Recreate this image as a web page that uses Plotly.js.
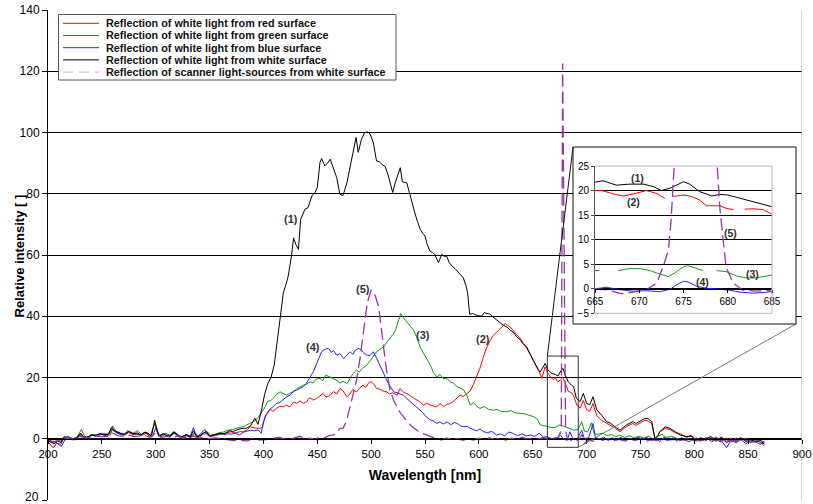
<!DOCTYPE html>
<html><head><meta charset="utf-8">
<script src="https://cdn.plot.ly/plotly-3.0.1.min.js"></script>
<style>html,body{margin:0;padding:0;background:#fff}</style>
</head><body><div id="chart" style="width:813px;height:504px"></div>
<script>
// ---------------- DATA ----------------
const seriesNames = [
  'Reflection of white light from red surface',
  'Reflection of white light from green surface',
  'Reflection of white light from blue surface',
  'Reflection of white light from white surface',
  'Reflection of scanner light-sources from white surface'
];
const seriesColors = ['#ff0000', '#119911', '#2222ff', '#000000', '#9933a6'];

// [wavelength nm, relative intensity]
const redSurface = [[200,-1.0],[203,-2.0],[205,-3.0],[208,-1.5],[212,-1.8],[215,0.4],[219,0.0],[223,-0.4],[227,0.2],[231,1.6],[234,0.3],[238,0.8],[242,1.3],[246,1.0],[250,1.5],[254,1.0],[258,1.3],[260,3.2],[263,2.0],[267,1.5],[271,1.2],[275,2.0],[279,1.3],[283,1.6],[287,1.0],[291,1.8],[295,0.6],[299,4.8],[302,1.5],[305,0.6],[309,1.5],[313,0.6],[317,1.8],[321,0.9],[325,0.3],[329,1.0],[333,0.4],[336,1.8],[340,0.4],[344,1.5],[348,1.8],[351,0.7],[355,1.0],[359,1.3],[363,1.6],[367,2.0],[370,2.3],[374,1.8],[378,1.2],[382,2.4],[385,3.0],[388,3.9],[392,3.5],[396.5,3.4],[399,3.7],[401.5,7.2],[404,8.3],[406,9.6],[409,9.0],[412,9.9],[415,10.6],[418.5,10.4],[421,11.0],[424.5,10.4],[428,12.0],[431,11.5],[434,12.4],[437,11.6],[440,12.1],[443,13.4],[446,12.6],[449.5,13.2],[452,14.0],[455.5,14.8],[458,13.6],[462,14.2],[465,15.4],[468,14.6],[471,16.4],[474,15.6],[477.5,13.7],[480,14.5],[483,16.0],[486.5,15.3],[489,16.4],[492.5,17.5],[495,16.8],[498,18.4],[500.5,18.6],[503,17.6],[505,16.4],[508,16.2],[511,15.6],[514.5,15.3],[517,14.6],[520,15.0],[524,14.2],[527,16.4],[530,15.2],[533,14.8],[536,14.2],[539,13.4],[542.5,12.6],[545.5,12.0],[548.5,11.0],[551.5,11.6],[555,11.0],[558,10.6],[561,10.4],[564,11.5],[567,10.5],[570,11.2],[573.5,11.5],[577,12.4],[580,13.5],[582.5,14.2],[585.5,13.8],[589,14.8],[592,15.6],[595,17.8],[598,20.2],[601,23.0],[604,26.5],[607.5,30.0],[610.5,32.0],[613.5,33.8],[616.5,34.8],[620,36.0],[622,36.8],[624.5,37.6],[627,37.0],[629.5,36.3],[632,35.4],[635,34.0],[638,33.0],[641.5,31.1],[644.5,29.5],[647.5,27.8],[650.5,25.6],[654,23.5],[656.5,21.5],[658.5,19.7],[661.5,23.5],[664,21.5],[666.5,20.2],[669,19.3],[671,20.0],[673,18.6],[675.5,19.1],[678,20.0],[680.5,18.0],[683,15.5],[686,15.0],[688,14.0],[691,11.0],[694,10.0],[697,12.5],[700,9.5],[703,9.0],[706,11.5],[709.5,7.5],[714,6.0],[719,5.0],[722,4.5],[726.5,3.5],[731,2.3],[737,4.0],[743,5.0],[746,4.4],[751,5.4],[754,6.0],[757,5.8],[760.5,5.0],[763.5,-0.2],[766,0.8],[768,2.3],[773,3.4],[777.5,3.0],[782,2.0],[787,1.6],[793,0.4],[797,1.2],[802,-0.5],[806,0.4],[811,-0.6],[815,0.5],[820,-0.9],[825,0.6],[830,-0.8],[834,0.2],[839,-1.0],[843,0.1],[848,-0.4],[852,-1.2],[857,-0.6],[861,-1.0],[865,-2.4]];

const greenSurface = [[200,-0.5],[203,-1.0],[206,-1.2],[209,-0.4],[212,-0.8],[215,0.8],[219,0.4],[223,0.0],[227,0.6],[231,3.0],[234,0.8],[238,0.6],[242,1.4],[246,1.2],[250,1.8],[254,1.5],[258,1.8],[260,4.2],[263,2.5],[267,1.9],[271,1.6],[275,2.5],[279,1.8],[283,2.6],[287,1.4],[291,2.2],[295,1.0],[299,5.0],[302,2.0],[305,1.0],[309,1.8],[313,1.2],[317,2.4],[321,1.2],[325,0.6],[329,1.3],[333,0.8],[336,2.0],[340,0.8],[344,1.9],[348,2.2],[351,1.2],[355,1.5],[359,2.0],[363,2.2],[367,2.8],[371,3.0],[375,3.4],[379,3.9],[383,4.2],[387,5.0],[390.5,5.5],[394,6.5],[398,8.3],[401,10.0],[404,12.2],[407,12.5],[409,13.2],[412,14.5],[415.5,15.3],[418,14.8],[421.5,14.2],[424,14.8],[428,15.3],[431,16.4],[434,17.0],[437,17.5],[440,17.8],[443.5,18.6],[446,18.2],[449,19.5],[452.5,19.7],[455,19.0],[458,20.8],[462,20.2],[465,19.8],[468,19.1],[471,18.2],[474,18.8],[477.5,18.0],[480,19.5],[483,21.2],[486.5,22.4],[489,21.8],[492,23.0],[496,24.0],[499,25.4],[502,27.0],[505,28.4],[508,29.2],[511.5,30.0],[514,31.2],[517.5,32.7],[520,34.0],[522.5,35.4],[525,38.0],[527.5,40.9],[530,39.5],[533,38.2],[536,37.0],[539.5,35.4],[542.5,33.0],[545.5,30.0],[548.5,28.0],[551.5,26.2],[555,24.0],[558,21.5],[561,20.2],[564,21.0],[567,19.6],[570.5,19.7],[573.5,18.5],[576.5,18.2],[579.5,17.0],[582.5,16.6],[586,15.9],[589,14.0],[592,11.0],[595,11.8],[598,10.6],[601,9.9],[605,10.5],[609,9.6],[613.5,9.3],[617,9.6],[621,8.9],[626,8.8],[630,9.2],[634,8.4],[638.5,8.3],[642,8.2],[646,7.7],[651,7.2],[654,6.5],[657,4.5],[661,4.2],[664,3.9],[667,3.7],[671,3.7],[675,4.5],[678,4.2],[683,3.4],[688,2.8],[692,3.0],[695.5,5.6],[698,2.5],[701,2.2],[704.5,5.2],[707,1.6],[711,1.5],[715,1.8],[719,1.0],[723,1.4],[727,0.6],[731,1.2],[735,0.4],[740,1.0],[744,0.3],[749,0.8],[753,0.2],[758,0.9],[762,-0.2],[766,0.6],[770,1.5],[774,0.4],[779,0.8],[784,0.1],[789,-0.5],[793,0.2],[797,-0.6],[802,0.3],[806,-0.8],[811,0.4],[815,-0.5],[820,0.6],[825,-0.7],[830,0.2],[834,-1.1],[839,0.3],[843,-0.5],[848,0.2],[852,-1.3],[857,-0.4],[861,-1.2],[865,-1.5]];

const blueSurface = [[200,-0.6],[203,-1.1],[206,-0.9],[209,-1.6],[212.5,-2.5],[215,-0.8],[218,0.8],[222,0.2],[226,-0.4],[230,1.2],[233,0.4],[236,0.2],[240,1.4],[244,0.8],[248,1.6],[252,1.3],[256,1.6],[259,3.0],[262,2.4],[266,1.6],[270,1.2],[274,2.6],[278,1.8],[282,1.6],[286,1.2],[290,2.2],[294,1.4],[297,0.8],[300,3.6],[303,0.8],[307,1.6],[310,1.1],[314,0.9],[318,2.0],[321,1.0],[325,0.6],[328,1.4],[332,0.8],[335,3.6],[338,0.6],[341,1.4],[345.5,3.0],[348,1.2],[351,0.8],[355,1.4],[359,1.6],[363,1.4],[367,1.6],[370,1.5],[374,2.0],[378,2.3],[382,2.2],[385,2.6],[388,2.8],[392,2.6],[395,2.9],[398,1.8],[400,5.6],[403,8.3],[406,9.6],[409,10.5],[412,11.5],[415,11.8],[418,12.6],[421.5,13.7],[425,14.3],[428,15.6],[431,15.9],[434,16.5],[437,17.0],[440,18.2],[443.5,20.2],[446.5,22.0],[449.5,24.6],[452,26.5],[454,28.4],[457,29.2],[460.5,29.5],[463,28.2],[465,28.8],[468,27.3],[471,27.8],[474.5,26.2],[477,27.2],[480.5,28.4],[483,27.6],[485.5,29.0],[488.5,29.5],[491,29.0],[493,28.1],[496,27.3],[499,27.2],[502,28.4],[505,26.4],[508.5,23.5],[511,21.4],[514.5,19.1],[517.5,17.2],[521,15.3],[524,15.0],[527,14.6],[530,14.2],[533,13.2],[536.5,12.1],[539,11.4],[542,10.6],[545.5,9.3],[548,8.5],[551,7.2],[555,6.1],[558,5.8],[561,5.0],[564,5.5],[567,4.8],[570.5,5.5],[574,4.6],[577,5.3],[580,5.0],[583,4.2],[586,3.9],[589,4.1],[592,3.4],[595,3.0],[598,2.6],[601,3.2],[604.5,2.3],[608,2.0],[612,2.4],[616.5,1.2],[620,1.6],[624,1.0],[628,2.2],[632,1.7],[636,1.0],[640,1.6],[644,0.9],[648,1.2],[652,0.8],[656,1.8],[660,0.5],[663,0.7],[666,0.2],[670,-0.3],[673,-0.2],[675,1.5],[678,0.2],[682,-0.6],[684.5,2.3],[687,0.2],[691,-0.3],[695.5,2.8],[698,0.0],[702,0.4],[706,5.0],[708,0.6],[712,-0.2],[716,0.6],[720,-0.6],[724,0.3],[728,-0.4],[732,0.5],[736,-0.8],[740,0.1],[744,-0.5],[748,0.6],[752,-0.3],[756,0.4],[760,-0.6],[764,0.2],[768,-0.9],[772,0.5],[776,-0.3],[780,0.3],[784,-0.8],[788,0.4],[792,-0.4],[796,0.2],[800,-0.9],[804,0.1],[808,-0.6],[812,0.3],[816,-1.0],[820,-0.2],[825,-0.6],[830,-2.9],[834,-0.5],[839,-1.3],[843,-0.2],[848,-1.6],[852,-0.4],[857,-1.0],[861,-1.8],[865,-1.2]];

const whiteSurface = [[200,-0.5],[203,-1.2],[206,-1.6],[209,-0.8],[212,-1.2],[215,0.6],[218,0.2],[222,-0.2],[226,0.0],[230,1.8],[233,0.6],[236,0.4],[240,1.2],[244,1.0],[248,1.7],[252,1.2],[256,1.4],[259,3.8],[262,2.6],[265,2.0],[268,1.6],[271,1.4],[275,2.3],[279,1.6],[283,1.9],[286,1.3],[290,2.1],[293,1.8],[296,0.8],[299,6.0],[301,3.0],[303,0.8],[307,1.7],[310,1.0],[313,0.8],[317,2.2],[320,1.2],[323,0.4],[326,1.0],[329,1.2],[332,0.5],[335,2.6],[338,0.6],[341,1.0],[344,1.8],[347,2.4],[350,0.8],[353,1.2],[357,1.5],[360,1.8],[364,1.6],[368,2.6],[372,2.4],[376,3.0],[380,3.4],[384,3.4],[388,4.2],[392,6.7],[395,4.7],[398,9.0],[401,14.3],[404,18],[407,20],[410,24],[413,32],[415.5,40],[418.5,47.7],[421,50.5],[423,53.1],[426,59.6],[428,65.6],[430,63.5],[432.5,61.8],[434.5,71.6],[436.5,73],[438.5,74.9],[441.5,75.5],[443,77],[445,79.3],[448,80.5],[450,82],[452.5,90.2],[454,91.5],[457,89.1],[459.5,90],[462,91.3],[464.5,89],[466.5,86.9],[468,85.3],[471,79.8],[474,79.5],[477.5,83.6],[480,88],[482,92.4],[484,96],[486,98.4],[488,93.5],[491,97.8],[494,100],[497,100.2],[499,99.5],[502,96.7],[505,90.7],[507.5,90.5],[510,89.6],[513,88.9],[516,85.8],[520,80.4],[522,83.1],[524.5,86],[527,88.5],[529,83.9],[533,83.6],[536,79.8],[538,77],[540.5,73.8],[543,71],[545.5,68.4],[548,67],[550,66.2],[552,63.5],[554.5,61.3],[557,60.8],[559,60.2],[562.5,57.5],[565.5,60.2],[568,59.5],[570,59.7],[572.5,57.5],[575,56.4],[578,55.5],[581,54.2],[583,53.5],[585.5,52.6],[588,50],[589.5,47.7],[591.5,40.6],[594,40.9],[596,40.6],[599,40.2],[602.5,40],[605,41.2],[607.5,40.9],[610,40.8],[613,39.8],[616.5,38.7],[620,37.8],[623,37],[626,36.5],[629,35.5],[632,34.8],[635,33.3],[638,32.5],[641,31],[644.5,30],[647,28],[650.5,25.7],[653,24],[655,22.5],[657,21.8],[659,23],[661.5,24.6],[664,22.5],[666,21.8],[668,21.3],[671,21],[673.5,20.5],[675.5,21.8],[678,23],[680.5,20.5],[683,18.6],[686,17.5],[688,17],[690.5,13.2],[694,12.1],[697,14.8],[700,11.6],[703,11.1],[706,13.7],[709.5,9.4],[714,7.7],[718.5,5.6],[722,5.1],[726.5,3.9],[731,2.8],[737,4.5],[743,5.6],[746,5],[751,6.1],[754,6.6],[757,6.6],[760.5,5.6],[763.5,0.1],[766,1],[768,2.3],[773,3.9],[777.5,3.4],[782,2.3],[787,1.2],[793,0.7],[797,0.9],[802,-0.7],[806,0.2],[811,-0.2],[815,0.8],[820,-0.5],[825,0.3],[830,-1.3],[834,-0.2],[839,-0.7],[843,0.4],[848,-0.9],[852,-0.2],[857,-1.1],[861,-0.4],[865,-1.8]];

const scannerSources = [[200,-0.3],[205,-1.0],[210,-0.6],[215,0.4],[220,0.0],[225,-0.3],[230,0.8],[235,0.3],[240,0.6],[245,0.9],[250,0.7],[255,0.8],[260,1.8],[265,1.0],[270,0.8],[275,1.2],[280,0.7],[285,0.8],[290,1.1],[295,0.4],[300,2.0],[305,0.4],[310,0.8],[315,0.5],[320,0.9],[325,0.2],[330,0.6],[335,0.9],[340,0.2],[345,0.4],[350,0.0],[355,0.3],[360,0.1],[366,-0.3],[372,-0.6],[378,-0.5],[385,-0.7],[390,0.0],[396,-0.4],[403,-0.3],[409,0.2],[415,0.4],[420,-0.2],[425,-0.1],[430,0.4],[434,0.8],[438,0.1],[443,0.2],[448,-0.2],[452,0.5],[456,0.2],[461,1.0],[465,1.3],[468,2.0],[471,3.4],[474,3.5],[477,5.7],[480,10],[483,13.5],[486.5,19.1],[490,27],[493,35.4],[495.5,42],[497.5,45.8],[500,48.5],[502,48],[504,46.5],[507,43],[509,37],[511.5,30],[514,23],[517.5,15.9],[521,12.5],[524,10.4],[527,8.5],[530,7.2],[534,5.5],[538,3.9],[543,2.6],[548.5,1.7],[555,0.7],[560,0.2],[565,-0.4],[570,0.3],[575,-0.2],[580,0.1],[585,-0.5],[590,0.0],[595,-0.4],[600,0.2],[605,-0.3],[610,0.3],[615,-0.2],[620,0.1],[625,-0.4],[630,0.2],[635,-0.3],[640,0.5],[645,-0.2],[650,0.3],[655,-0.1],[660,0.4],[665,0.0],[670,0.2],[674,0.5],[676.5,3],[677.8,122.5],[680.5,3],[682,0.2],[686,-0.5],[690,-0.8],[693,-0.2],[696,1.5],[698,-1.5],[702,-0.4],[706,-0.8],[710,0.2],[715,-0.5],[720,0.1],[725,-0.6],[730,-0.2],[735,-0.7],[740,0.0],[745,-0.5],[750,-0.1],[755,-0.8],[760,-0.3],[765,-0.6],[770,0.1],[775,-0.5],[780,-0.2],[785,-0.7],[790,-0.3],[795,-0.9],[800,-0.4],[805,-0.7],[810,-0.2],[815,-0.9],[820,-0.4],[825,-1.0],[830,-0.5],[835,-0.9],[840,-0.3],[845,-0.8],[850,-0.5],[855,-1.1],[860,-0.6],[865,-1.0]];

// zoomed inset, 665-685 nm
const insetRed = [[665,20],[665.8,20],[667.1,19.3],[668.2,18.9],[669.3,19.3],[670.8,20],[672,19.4],[672.9,18.4],[673.3,null],[673.8,18.8],[675,19.1],[675.9,18.8],[676.8,18.1],[677.6,16.9],[679.1,16.9],[679.8,16.4],[680.6,16.1],[681.2,null],[681.9,16.2],[682.9,16.3],[684,16.1],[685,15.2]];
const insetGreen = [[665,3.7],[665.5,3.7],[666.5,null],[667.6,3.7],[668.9,4.1],[670.1,4.1],[671.2,3.7],[672.3,3.0],[673.3,2.5],[674,3.2],[675,4.5],[675.5,4.7],[676.5,4.2],[677.2,3.7],[678,null],[678.7,3.7],[679.8,3.5],[681,2.6],[682.1,2.2],[683.2,2.2],[685,2.8]];
const insetBlue = [[665,0],[666.3,0.3],[667.8,-0.2],[669.3,-0.5],[670.8,-0.4],[672.3,-0.6],[673.5,-0.1],[674.2,0.8],[675,1.5],[675.5,1.4],[676.5,0.5],[677.6,0.1],[679.1,-0.1],[680.2,-0.3],[681.4,-0.7],[682.9,-0.9],[684.4,-0.7],[685,-0.5]];
const insetWhite = [[665,21.7],[665.9,22],[667.4,21.1],[668.9,21.3],[670.5,21.3],[671.6,20.8],[672.5,20],[673.5,20.5],[674.2,21.1],[675,21.8],[675.7,21.3],[676.8,19.8],[678.2,18.9],[679.1,19.2],[680,19.1],[681.4,18.4],[682.9,17.8],[684,17.2],[685,16.7]];
const insetScanner = [[665,0],[666.3,-0.2],[668,-1],[669.3,-0.7],[670.8,-0.2],[672,1.2],[672.7,4.5],[673.3,7.9],[673.6,14],[674.3,40],[675.5,122],[677,122],[678.3,40],[679.1,16.7],[679.4,11.3],[679.8,4.5],[680.6,1.2],[681.7,-0.3],[683.2,-0.5],[684.7,-0.3],[685,-0.9]];

const xTicks = [200,250,300,350,400,450,500,550,600,650,700,750,800,850,900];
const yTicks = [-20,0,20,40,60,80,100,120,140];
const yTickText = ['','0','20','40','60','80','100','120','140'];
const bottomTickText = '20';   // the lowest tick label, as printed in the reference
const insetXTicks = [665,670,675,680,685];
const insetYTicks = [-5,0,5,10,15,20,25];

// curve labels: [text, wavelength, intensity]
const mainLabels = [['(1)',426,71.7],['(5)',492.5,49],['(4)',446,30.1],['(3)',548,33.9],['(2)',604,32.5]];
const insetLabels = [['(1)',669.8,22.6],['(2)',669.3,17.7],['(5)',680.3,11.3],['(3)',682.8,3.1],['(4)',677.1,1.4]];

// ---------------- LAYOUT HELPERS ----------------
const FONT = 'Arial, "Liberation Sans", sans-serif';
const W = 813, H = 504;
const M = {l: 48, r: 11, t: 10, b: 4};
const PW = W - M.l - M.r, PH = H - M.t - M.b;
const pX = px => (px - M.l) / PW;
const pY = py => (H - M.b - py) / PH;
const xr = [200, 900], yr = [-20, 140];
const dX = v => (v - xr[0]) / (xr[1] - xr[0]);
const dY = v => (v - yr[0]) / (yr[1] - yr[0]);

const outerBox = {x0: pX(573), x1: pX(796), y0: pY(324), y1: pY(147)};
const innerBox = {x0: pX(595), x1: pX(772), y0: pY(313.3), y1: pY(166)};
const insetYR = [-5, 25];
const insetZero = innerBox.y0 + (0 - insetYR[0]) / (insetYR[1] - insetYR[0]) * (innerBox.y1 - innerBox.y0);
const zoomRect = {x0: 663.6, x1: 692.3, y0: -2.8, y1: 27};

const mainSeries = [redSurface, greenSurface, blueSurface, whiteSurface, scannerSources];
const insetSeries = [insetRed, insetGreen, insetBlue, insetWhite, insetScanner];

const traces = [];
mainSeries.forEach((s, i) => {
  traces.push({
    type: 'scatter', mode: 'lines', name: seriesNames[i],
    x: s.map(p => p[0]), y: s.map(p => p[1]),
    xaxis: 'x', yaxis: 'y', showlegend: false, hoverinfo: 'skip',
    line: {color: seriesColors[i], width: i === 4 ? 1.3 : 1, dash: i === 4 ? '12px,5px' : 'solid'}
  });
});
// white background panel for the inset
traces.push({type: 'scatter', mode: 'lines', x: [null], y: [null], xaxis: 'x2', yaxis: 'y2', showlegend: false, hoverinfo: 'skip'});
insetSeries.forEach((s, i) => {
  traces.push({
    type: 'scatter', mode: 'lines', name: seriesNames[i] + ' (inset)',
    x: s.map(p => p[0]), y: s.map(p => p[1]),
    xaxis: 'x3', yaxis: 'y3', showlegend: false, hoverinfo: 'skip', connectgaps: false,
    line: {color: seriesColors[i], width: i === 4 ? 1.3 : 1, dash: i === 4 ? '12px,5px' : 'solid'}
  });
});

const shapes = [
  // hide gridlines at the very top / bottom
  {type: 'line', xref: 'paper', yref: 'y', x0: 0.002, x1: 1, y0: 140, y1: 140, line: {color: '#fff', width: 2}, layer: 'above'},
  {type: 'line', xref: 'paper', yref: 'y', x0: 0.002, x1: 1, y0: -20, y1: -20, line: {color: '#fff', width: 2}, layer: 'above'},
  // right border of plot area
  {type: 'line', xref: 'x', yref: 'y', x0: 900, x1: 900, y0: -20, y1: 140, line: {color: '#b0b0b0', width: 1}, layer: 'above'},
  // zoom rectangle
  {type: 'rect', xref: 'x', yref: 'y', x0: zoomRect.x0, x1: zoomRect.x1, y0: zoomRect.y0, y1: zoomRect.y1, line: {color: '#333', width: 1}, layer: 'above'},
  // connector lines
  {type: 'line', xref: 'paper', yref: 'paper', x0: outerBox.x0, y0: outerBox.y1, x1: dX(zoomRect.x0), y1: dY(zoomRect.y1), line: {color: '#111', width: 1}, layer: 'above'},
  {type: 'line', xref: 'paper', yref: 'paper', x0: outerBox.x1, y0: outerBox.y0, x1: dX(zoomRect.x1), y1: dY(zoomRect.y0), line: {color: '#777', width: 1}, layer: 'above'},
  // inset outer frame
  {type: 'rect', xref: 'paper', yref: 'paper', x0: outerBox.x0, x1: outerBox.x1, y0: outerBox.y0, y1: outerBox.y1, line: {color: '#111', width: 1}, layer: 'above'},
  // inset inner plot border (top, right, bottom)
  {type: 'line', xref: 'paper', yref: 'paper', x0: innerBox.x0, x1: innerBox.x1, y0: innerBox.y1, y1: innerBox.y1, line: {color: '#b8b8b8', width: 1}, layer: 'above'},
  {type: 'line', xref: 'paper', yref: 'paper', x0: innerBox.x1, x1: innerBox.x1, y0: innerBox.y0, y1: innerBox.y1, line: {color: '#b8b8b8', width: 1}, layer: 'above'},
  {type: 'line', xref: 'paper', yref: 'paper', x0: innerBox.x0, x1: innerBox.x1, y0: innerBox.y0, y1: innerBox.y0, line: {color: '#b8b8b8', width: 1}, layer: 'above'},
  // legend box
  {type: 'rect', xref: 'paper', yref: 'paper', x0: pX(58.5), x1: pX(396), y0: pY(80), y1: pY(14.5), fillcolor: '#fff', line: {color: '#555', width: 1}, layer: 'above'}
];

const annotations = [];
seriesNames.forEach((name, i) => {
  const rowY = pY(23.3 + i * 12.2);
  shapes.push({type: 'line', xref: 'paper', yref: 'paper', x0: pX(63), x1: pX(99), y0: rowY, y1: rowY,
    line: {color: seriesColors[i], width: 1, dash: i === 4 ? '10px,6px' : 'solid'}, opacity: i === 4 ? 0.45 : 1, layer: 'above'});
  annotations.push({xref: 'paper', yref: 'paper', x: pX(104), y: rowY, xanchor: 'left', yanchor: 'middle', showarrow: false,
    text: name, font: {family: FONT, size: 10.8, color: '#111', weight: 'bold'}});
});
mainLabels.forEach(l => annotations.push({xref: 'x', yref: 'y', x: l[1], y: l[2], text: l[0], showarrow: false,
  font: {family: FONT, size: 11, color: '#333', weight: 'bold'}}));
insetLabels.forEach(l => annotations.push({xref: 'x3', yref: 'y3', x: l[1], y: l[2], text: l[0], showarrow: false,
  font: {family: FONT, size: 10.5, color: '#333', weight: 'bold'}}));
// y-axis title, placed like the reference (close to the tick labels)
annotations.push({xref: 'paper', yref: 'paper', x: pX(18.5), y: pY(256), xanchor: 'center', yanchor: 'middle',
  textangle: -90, showarrow: false, text: 'Relative intensity [ ]',
  font: {family: FONT, size: 13, color: '#000', weight: 'bold'}});
// lowest y tick label, lifted slightly so it stays inside the picture
annotations.push({xref: 'paper', yref: 'paper', x: pX(41), y: pY(496.5), xanchor: 'right', yanchor: 'middle',
  showarrow: false, text: bottomTickText, font: {family: FONT, size: 12, color: '#000'}});

const layout = {
  width: W, height: H,
  margin: M,
  paper_bgcolor: '#fff', plot_bgcolor: '#fff',
  showlegend: false,
  font: {family: FONT, color: '#000'},
  xaxis: {
    range: xr, domain: [0, 1], anchor: 'free', position: dY(0),
    tickmode: 'array', tickvals: xTicks, ticks: 'outside', ticklen: 4, tickcolor: '#000',
    showline: true, linecolor: '#000', linewidth: 1, showgrid: false, zeroline: false,
    tickfont: {family: FONT, size: 11.5, color: '#000'},
    title: {text: 'Wavelength [nm]', standoff: 11, font: {family: FONT, size: 14, color: '#000', weight: 'bold'}},
    fixedrange: true
  },
  yaxis: {
    range: yr, domain: [0, 1], anchor: 'x',
    tickmode: 'array', tickvals: yTicks, ticktext: yTickText, ticks: 'outside', ticklen: 5, tickcolor: '#000',
    showline: true, linecolor: '#000', linewidth: 1,
    showgrid: true, gridcolor: '#000', gridwidth: 1, zeroline: false,
    tickfont: {family: FONT, size: 12, color: '#000'},
    fixedrange: true
  },
  xaxis2: {domain: [outerBox.x0, outerBox.x1], range: [0, 1], anchor: 'y2', visible: false, fixedrange: true},
  yaxis2: {domain: [outerBox.y0, outerBox.y1], range: [0, 1], anchor: 'x2', visible: false, fixedrange: true},
  xaxis3: {
    domain: [innerBox.x0, innerBox.x1], range: [665, 685], anchor: 'free', position: insetZero,
    tickmode: 'array', tickvals: insetXTicks, ticks: 'outside', ticklen: 3, tickcolor: '#000',
    showline: true, linecolor: '#000', linewidth: 1, showgrid: false, zeroline: false,
    tickfont: {family: FONT, size: 10, color: '#000'}, fixedrange: true
  },
  yaxis3: {
    domain: [innerBox.y0, innerBox.y1], range: insetYR, anchor: 'x3',
    tickmode: 'array', tickvals: insetYTicks, ticks: 'outside', ticklen: 3, tickcolor: '#444',
    showline: true, linecolor: '#555', linewidth: 1,
    showgrid: true, gridcolor: '#000', gridwidth: 1, zeroline: false,
    tickfont: {family: FONT, size: 10, color: '#000'}, fixedrange: true
  },
  shapes: shapes,
  annotations: annotations
};

Plotly.newPlot('chart', traces, layout, {staticPlot: true, displayModeBar: false});
</script>
</body></html>
